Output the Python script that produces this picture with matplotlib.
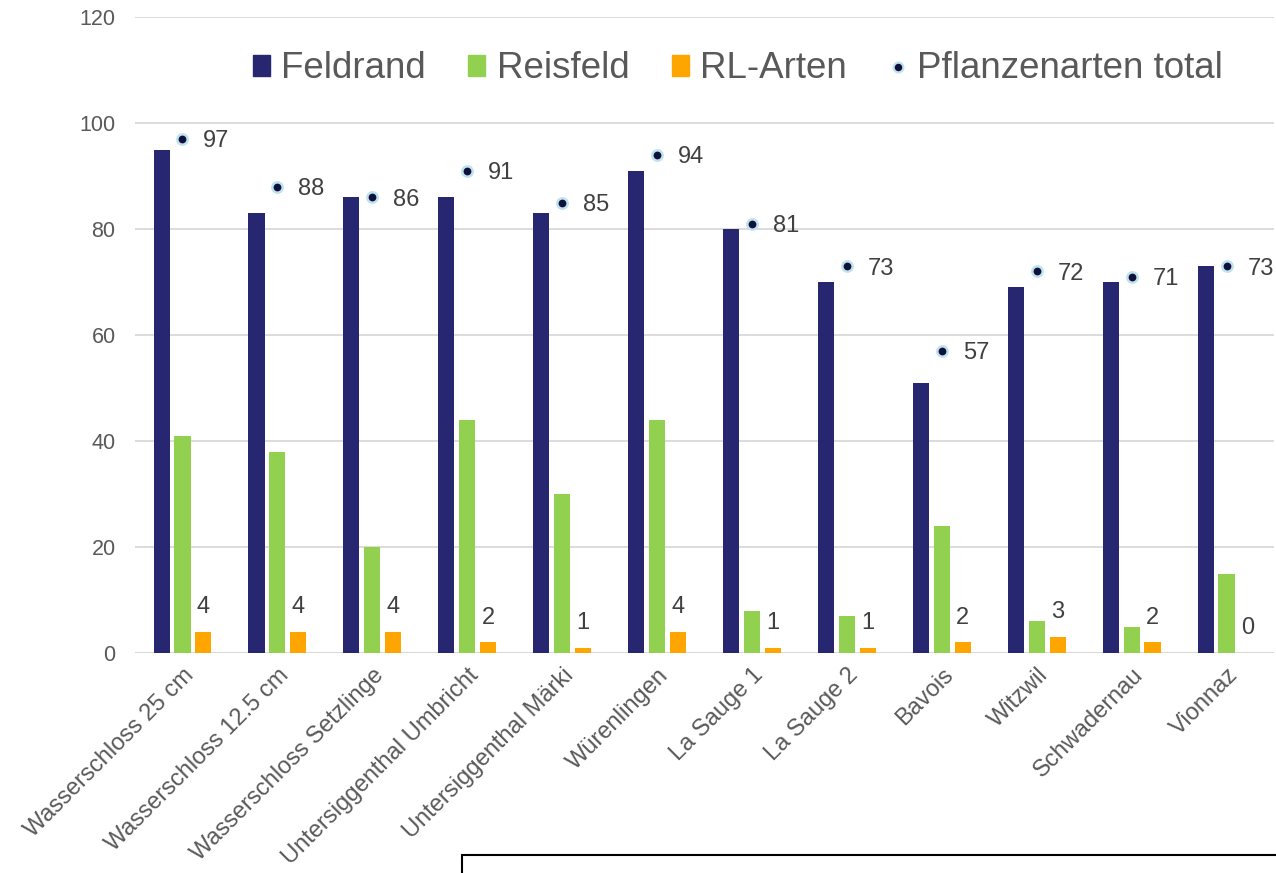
import matplotlib.pyplot as plt
import matplotlib.patches as mpatches
from matplotlib.lines import Line2D
import numpy as np

plt.rcParams["font.family"] = ["Liberation Sans", "DejaVu Sans"]

sites = ["Wasserschloss 25 cm", "Wasserschloss 12.5 cm", "Wasserschloss Setzlinge",
         "Untersiggenthal Umbricht", "Untersiggenthal Märki", "Würenlingen",
         "La Sauge 1", "La Sauge 2", "Bavois", "Witzwil", "Schwadernau", "Vionnaz"]
feldrand = [95, 83, 86, 86, 83, 91, 80, 70, 51, 69, 70, 73]
reisfeld = [41, 38, 20, 44, 30, 44, 8, 7, 24, 6, 5, 15]
rl_arten = [4, 4, 4, 2, 1, 4, 1, 1, 2, 3, 2, 0]
total = [97, 88, 86, 91, 85, 94, 81, 73, 57, 72, 71, 73]

C_FELD = "#262671"
C_REIS = "#92D050"
C_RL = "#FFA500"
GRAY = "#595959"

fig = plt.figure(figsize=(12.76, 8.73), dpi=100)
ax = fig.add_axes([135 / 1276, 1 - 653 / 873, 1139 / 1276, 636 / 873])

x = np.arange(len(sites))
w = 0.17
off = 0.22
ax.bar(x - off, feldrand, w, color=C_FELD, zorder=3, label="Feldrand")
ax.bar(x, reisfeld, w, color=C_REIS, zorder=3, label="Reisfeld")
ax.bar(x + off, rl_arten, w, color=C_RL, zorder=3, label="RL-Arten")
ax.scatter(x, total, s=55, color="#10103F", edgecolors="#BFE3EA", linewidths=1.8,
           zorder=4, label="Pflanzenarten total")

# RL-Arten counts above the orange bars, totals beside the dots
for xi, v in zip(x, rl_arten):
    ax.annotate(str(v), (xi + off, v), xytext=(0, 10), textcoords="offset points",
                ha="center", va="bottom", fontsize=17, color="#404040")
for xi, v in zip(x, total):
    ax.annotate(str(v), (xi, v), xytext=(15, 0), textcoords="offset points",
                ha="left", va="center_baseline", fontsize=17, color="#404040")

ax.set_xlim(-0.5, 11.5)
ax.set_ylim(0, 120)
ax.set_yticks(range(0, 121, 20))
ax.set_xticks(x)
ax.set_xticklabels(sites, rotation=45, ha="right", rotation_mode="anchor")
ax.tick_params(axis="x", length=0, pad=8, labelsize=17, labelcolor=GRAY)
ax.tick_params(axis="y", length=0, pad=14, labelsize=15.5, labelcolor=GRAY)
ax.grid(axis="y", color="#D9D9D9", linewidth=1.3, zorder=0)
for s in ax.spines.values():
    s.set_visible(False)
ax.axhline(0, color="#D9D9D9", linewidth=1.5, zorder=2)

handles = [
    mpatches.Patch(color=C_FELD, label="Feldrand"),
    mpatches.Patch(color=C_REIS, label="Reisfeld"),
    mpatches.Patch(color=C_RL, label="RL-Arten"),
    Line2D([], [], marker="o", linestyle="none", markersize=7, markerfacecolor="#10103F",
           markeredgecolor="#BFE3EA", markeredgewidth=1.6, label="Pflanzenarten total"),
]
leg = fig.legend(handles=handles, loc="center", bbox_to_anchor=(738 / 1276, 1 - 69 / 873),
                 ncol=4, frameon=False, fontsize=26.5, handlelength=0.47, handleheight=0.47,
                 handletextpad=0.3, columnspacing=1.15, labelcolor=GRAY)

fig.patches.append(mpatches.Rectangle((462 / 1276, -0.05), 0.7, 0.05 + 18 / 873,
                                      transform=fig.transFigure, fill=False,
                                      edgecolor="black", linewidth=1.5))

fig.savefig("out.png", dpi=100)
